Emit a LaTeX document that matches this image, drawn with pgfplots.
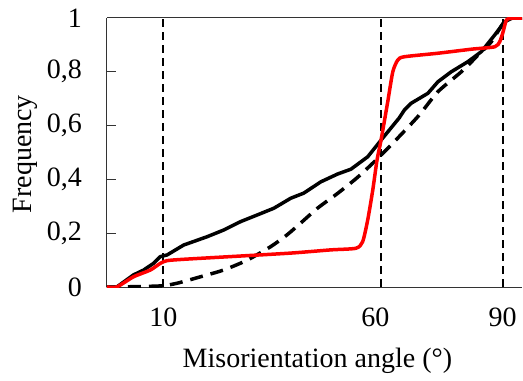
\documentclass[border=0pt]{standalone}
\usepackage{fontspec}
\setmainfont{Liberation Serif}
\newfontfamily\tnr{Liberation Serif}
\usepackage{pgfplots}
\pgfplotsset{compat=1.18}
\begin{document}
\begin{tikzpicture}
\path (-107bp,-94bp) rectangle (416bp,287bp);
\begin{axis}[
 at={(0,0)}, anchor=south west,
 width=415bp, height=269bp, scale only axis,
 xmin=-3.3, xmax=94.6, ymin=0, ymax=1,
 axis x line*=box, axis y line*=left,
 axis line style={black!80, line width=1bp},
 xtick={10,60,90}, xticklabels={{\tnr 10},{\tnr 60},{\tnr 90}}, xtick style={draw=none},
 ytick={0,0.2,0.4,0.6,0.8,1},
 yticklabels={{\tnr 0},{\tnr 0,2},{\tnr 0,4},{\tnr 0,6},{\tnr 0,8},{\tnr 1}},
 ytick style={black!80,line width=1bp}, tick align=inside, major tick length=9bp,
 tick label style={font=\tnr\fontsize{28bp}{32bp}\selectfont},
 yticklabel style={anchor=east, inner sep=0pt, xshift=-25bp},
 xticklabel style={anchor=north, inner sep=0pt, yshift=-21bp},
 label style={font=\tnr\fontsize{28bp}{32bp}\selectfont},
 xlabel={Misorientation angle (°)},
 ylabel={Frequency},
 xlabel style={at={([yshift=-80bp]axis description cs:0.507,0)}, anchor=base},
 ylabel style={at={([xshift=-82bp]axis description cs:0,0.494)}, anchor=center},
 clip=true,
]
\addplot[black, line width=2bp, dash pattern=on 8bp off 5bp] coordinates {(9.9,0) (9.9,1)};
\addplot[black, line width=2bp, dash pattern=on 8bp off 5bp] coordinates {(61.3,0) (61.3,1)};
\addplot[black, line width=2bp, dash pattern=on 8bp off 5bp] coordinates {(90.0,0) (90.0,1)};
% dashed curve
\addplot[black, line width=3.5bp, dash pattern=on 13bp off 8bp, smooth, tension=0.4] coordinates {
(-3.3,0) (-1,0) (9.28,0.004) (13.23,0.014) (18.75,0.038) (24.19,0.063) (29.80,0.100) (35.31,0.150) (38.86,0.19) (41.63,0.227) (46.37,0.293) (51.10,0.348) (55.83,0.408) (60.57,0.478) (65.61,0.559) (70.34,0.639) (74.77,0.726) (80.28,0.800) (84.24,0.862) (87.39,0.912) (90.15,0.980) (92.12,0.999) (94.6,1)};
% solid black
\addplot[black, line width=3.5bp, line join=round] coordinates {
(-3.3,0) (-1.0,0) (2.96,0.045) (5.33,0.063) (7.69,0.088) (9.28,0.113) (10.86,0.119) (14.79,0.156) (20.33,0.187) (24.26,0.212) (28.21,0.243) (32.17,0.268) (36.09,0.293) (40.05,0.330) (43.12,0.349) (47.15,0.391) (51.10,0.420) (54.25,0.438) (58.20,0.484) (61.35,0.546) (65.61,0.628) (66.86,0.658) (68.45,0.683) (72.40,0.720) (74.77,0.763) (77.91,0.800) (81.87,0.838) (85.02,0.875) (88.17,0.937) (90.53,0.986) (92.12,0.999) (94.6,1)};
% red
\addplot[red, line width=3.5bp, smooth, tension=0.4] coordinates {
(-3.3,0) (-1.0,0) (2.96,0.038) (6.91,0.063) (9.28,0.088) (10.86,0.098) (14.79,0.103) (25.8,0.113) (40.0,0.126) (49.5,0.138) (55.4,0.144) (57.0,0.168) (58.2,0.249) (59.4,0.361) (60.4,0.472) (61.35,0.546) (62.93,0.689) (64.12,0.800) (65.30,0.844) (66.86,0.856) (74.77,0.869) (82.65,0.884) (88.17,0.893) (89.35,0.912) (90.15,0.949) (90.93,0.993) (92.12,0.999) (94.6,1)};
\end{axis}
\end{tikzpicture}
\end{document}
